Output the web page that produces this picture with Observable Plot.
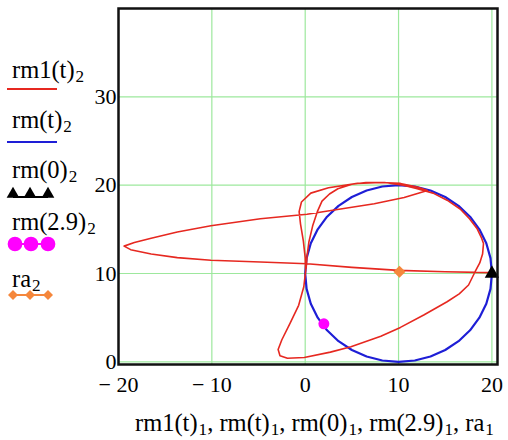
<!DOCTYPE html>
<html>
<head>
<meta charset="utf-8">
<script src="https://cdn.jsdelivr.net/npm/d3@7"></script>
<script src="https://cdn.jsdelivr.net/npm/@observablehq/plot@0.6"></script>
<style>
  body { margin: 0; background: #fff; }
  #wrap { position: relative; width: 508px; height: 440px; font-family: "Liberation Serif", "Times New Roman", serif; font-size: 24.5px; color: #000; }
  #wrap svg.chart { position: absolute; left: 0; top: 0; }
  #wrap svg.chart text { font-family: "Liberation Serif", "Times New Roman", serif; }
  .lbl { position: absolute; line-height: 30px; white-space: nowrap; overflow: visible; }
  .lbl sub { font-size: 0.7em; vertical-align: -0.24em; line-height: normal; margin-left: 1px; }
  .key { position: absolute; left: 0; }
</style>
</head>
<body>
<div id="wrap"></div>
<script>
// Trajectory rm1(t): x and y components in drawing order
const rm1X = [0.1, 0.2, 0.4, 0.8, 1.3, 1.8, 2.6, 3.5, 5.0, 6.5, 8.5, 10.5, 12.0, 13.7, 15.2, 16.6, 17.6, 18.4, 18.9, 19.1,
  19.0, 18.7, 18.2, 17.5, 16.5, 15.2, 12.7, 10.2, 8.1, 4.9, 2.7, -0.1, -1.9, -2.7, -2.9, -2.5, -1.6, -0.7, -0.15, 0.05,
  0.0, -0.2, -0.5, -0.65, -0.4, 0.6, 2.5, 5.6, 8.1, 10.2, 12.0, 13.1, 10.6, 7.4, 3.8, 0.2, -4.8, -10.1, -13.7, -16.5,
  -18.3, -19.4, -18.7, -16.5, -13.7, -10.1, -4.8, 0.2, 5.0, 10.0, 15.0, 19.8];
const rm1Y = [10.6, 12.0, 13.6, 15.4, 17.0, 18.2, 19.0, 19.6, 20.1, 20.3, 20.3, 20.0, 19.6, 19.1, 18.3, 17.3, 16.2, 15.1, 14.0, 13.4,
  12.2, 11.2, 10.2, 8.7, 7.7, 6.8, 5.3, 3.9, 2.9, 1.7, 1.1, 0.5, 0.4, 0.7, 1.4, 2.5, 4.4, 6.4, 8.5, 10.3,
  11.8, 13.7, 15.6, 17.0, 18.1, 19.1, 19.7, 20.2, 20.3, 20.2, 19.8, 19.4, 18.6, 17.9, 17.3, 16.7, 16.2, 15.4, 14.7, 14.0,
  13.5, 13.1, 12.7, 12.2, 11.8, 11.5, 11.3, 11.1, 10.7, 10.35, 10.2, 10.1];

// Orbit rm(t): x and y components
const rmX = [20, 19.85, 19.4, 18.66, 17.66, 16.43, 15, 13.42, 11.74, 10, 8.26, 6.58, 5, 3.57, 2.34, 1.34, 0.6, 0.15,
  0, 0.15, 0.6, 1.34, 2.34, 3.57, 5, 6.58, 8.26, 10, 11.74, 13.42, 15, 16.43, 17.66, 18.66, 19.4, 19.85, 20];
const rmY = [10, 11.74, 13.42, 15, 16.43, 17.66, 18.66, 19.4, 19.85, 20, 19.85, 19.4, 18.66, 17.66, 16.43, 15, 13.42, 11.74,
  10, 8.26, 6.58, 5, 3.57, 2.34, 1.34, 0.6, 0.15, 0, 0.15, 0.6, 1.34, 2.34, 3.57, 5, 6.58, 8.26, 10];

// Single positions
const rm0 = [20, 10];
const rm29 = [2.0, 4.3];
const ra = [10.1, 10.2];

// Axis ticks and grid
const xTicks = [-20, -10, 0, 10, 20];
const yTicks = [0, 10, 20, 30];
const xGrid = [-10, 0, 10, 20];
const yGrid = [0, 10, 20, 30];

// Legend entries and axis title parts
const legendNames = ["rm1(t)", "rm(t)", "rm(0)", "rm(2.9)", "ra"];
const titleNames = ["rm1(t)", "rm(t)", "rm(0)", "rm(2.9)", "ra"];

const RED = "#e62820", BLUE = "#1e1ed6", GREEN = "#9de89d", MAGENTA = "#ff00ff", ORANGE = "#f5873c";
const SERIF = '"Liberation Serif", "Times New Roman", serif';

const redPath = rm1X.map((x, i) => ({x, y: rm1Y[i]}));
const bluePath = rmX.map((x, i) => ({x, y: rmY[i]}));
const fmt = d => d < 0 ? "\u2212 " + (-d) : String(d);

const chart = Plot.plot({
  width: 508,
  height: 440,
  marginLeft: 118,
  marginRight: 11,
  marginTop: 8,
  marginBottom: 76,
  style: {fontFamily: SERIF, fontSize: "22px", background: "transparent", color: "#000"},
  x: {domain: [-20, 20.6]},
  y: {domain: [-0.3, 40]},
  marks: [
    Plot.ruleX(xGrid, {stroke: GREEN, strokeWidth: 1.2}),
    Plot.ruleY(yGrid, {stroke: GREEN, strokeWidth: 1.2}),
    Plot.line(bluePath, {x: "x", y: "y", stroke: BLUE, strokeWidth: 2.2}),
    Plot.line(redPath, {x: "x", y: "y", stroke: RED, strokeWidth: 1.6, strokeLinejoin: "round"}),
    Plot.dot([rm0], {x: d => d[0], y: d => d[1], symbol: "triangle", fill: "#000", r: 5.3}),
    Plot.dot([rm29], {x: d => d[0], y: d => d[1], fill: MAGENTA, r: 5.5}),
    Plot.dot([ra], {x: d => d[0], y: d => d[1], symbol: "diamond2", fill: ORANGE, r: 5.5}),
    Plot.frame({stroke: "#111", strokeWidth: 2.5}),
    Plot.axisX(xTicks, {tickSize: 0, tickPadding: 12, tickFormat: fmt, fontSize: 22, fontFamily: SERIF, label: null}),
    Plot.axisY(yTicks, {tickSize: 0, tickPadding: 2, fontSize: 22, fontFamily: SERIF, label: null})
  ]
});
chart.classList.add("chart");
const wrap = document.getElementById("wrap");
wrap.appendChild(chart);

// Text with a lowered index, e.g. rm(0) with index 2
function indexed(el, name, idx) {
  el.append(name);
  const s = document.createElement("sub");
  s.textContent = idx;
  el.appendChild(s);
}

// Legend on the left side
const legendLayout = [
  {kind: "line", color: RED, textTop: 55, keyY: 89},
  {kind: "line", color: BLUE, textTop: 104.5, keyY: 141.5},
  {kind: "triangle", color: "#000", textTop: 154.5, keyY: 193},
  {kind: "circle", color: MAGENTA, textTop: 206.5, keyY: 244},
  {kind: "diamond", color: ORANGE, textTop: 263.5, keyY: 295}
];
legendNames.forEach((name, i) => {
  const L = legendLayout[i];
  const t = document.createElement("div");
  t.className = "lbl";
  t.style.left = "12px";
  t.style.top = L.textTop + "px";
  indexed(t, name, "2");
  wrap.appendChild(t);

  const svg = d3.create("svg").attr("class", "key").attr("width", 66).attr("height", 24)
    .style("top", (L.keyY - 12) + "px");
  const cy = 12;
  if (L.kind === "line") {
    svg.append("line").attr("x1", 7).attr("x2", 57).attr("y1", cy).attr("y2", cy)
      .attr("stroke", L.color).attr("stroke-width", 2);
  } else {
    const xs = L.kind === "circle" ? [15, 31, 48] : [13, 30, 48];
    const ly = L.kind === "triangle" ? cy + 4 : cy;
    svg.append("line").attr("x1", xs[0]).attr("x2", xs[2]).attr("y1", ly).attr("y2", ly)
      .attr("stroke", L.color).attr("stroke-width", 2);
    const sym = L.kind === "triangle" ? d3.symbolTriangle : L.kind === "circle" ? d3.symbolCircle : d3.symbolSquare;
    const size = L.kind === "triangle" ? 70 : L.kind === "circle" ? 170 : 50;
    xs.forEach(x => {
      svg.append("path").attr("d", d3.symbol(sym, size)())
        .attr("transform", `translate(${x},${cy + (L.kind === "triangle" ? 1 : 0)})` + (L.kind === "diamond" ? " rotate(45)" : ""))
        .attr("fill", L.color);
    });
  }
  wrap.appendChild(svg.node());
});

// Axis title below the chart
const title = document.createElement("div");
title.className = "lbl";
title.style.left = "135px";
title.style.top = "408px";
titleNames.forEach((name, i) => {
  indexed(title, name, "1");
  if (i < titleNames.length - 1) title.append(", ");
});
wrap.appendChild(title);
</script>
</body>
</html>
